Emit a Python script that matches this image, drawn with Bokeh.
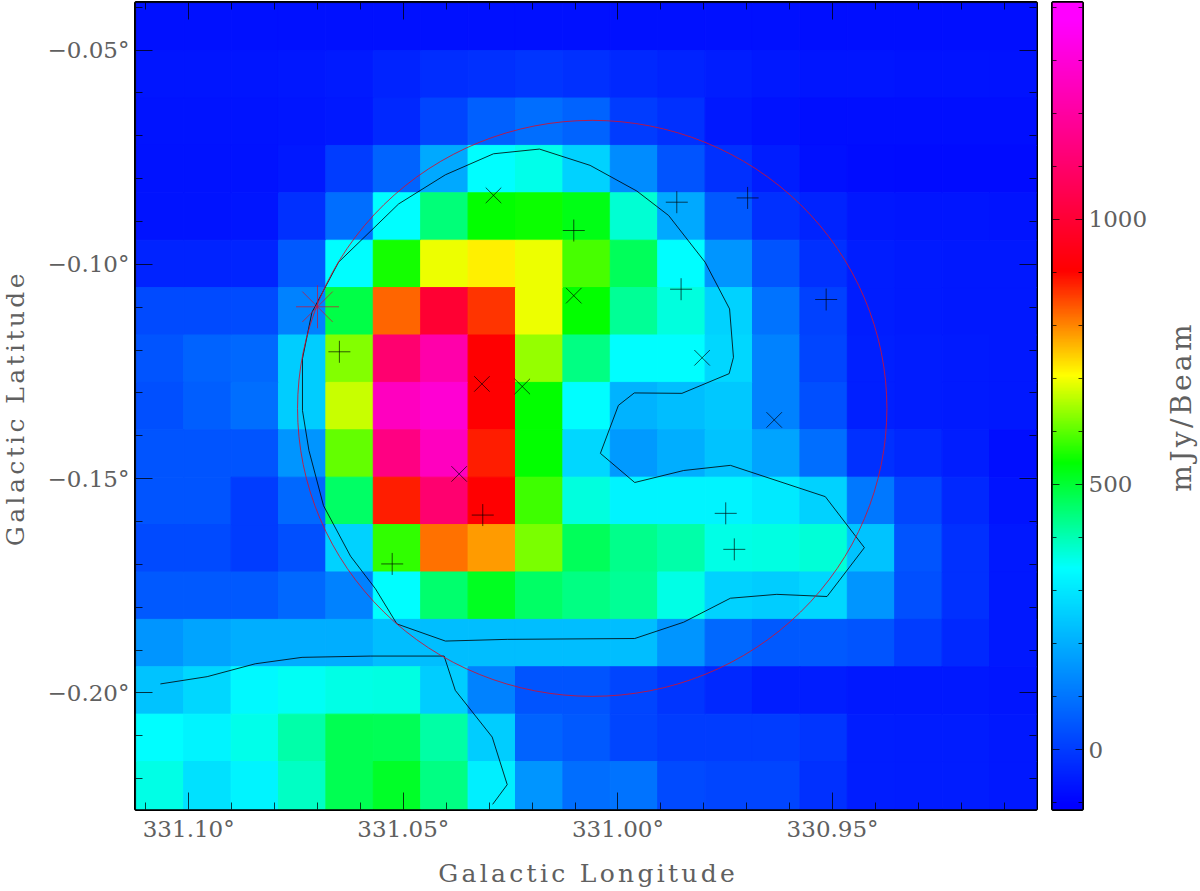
import numpy as np
from bokeh.plotting import figure
from bokeh.layouts import row, column
from bokeh.embed import file_html
from bokeh.resources import INLINE
from bokeh.core.properties import value
from bokeh.models import Range1d, LinearAxis, FixedTicker, LinearColorMapper, ColumnDataSource, GlobalInlineStyleSheet
from bokeh.transform import transform

# mJy/Beam per cell, top row first, left column (highest longitude) first
z_rows = [
 [-76,-76,-76,-76,-76,-76,-76,-76,-76,-76,-76,-76,-76,-76,-78,-78,-78,-78,-78],
 [-68,-68,-66,-64,-58,-44,-26,-18,-9,-18,-35,-44,-52,-62,-66,-68,-70,-70,-72],
 [-70,-70,-70,-67,-61,-35,17,63,87,70,0,-18,-61,-74,-78,-78,-79,-79,-79],
 [-74,-74,-74,-61,0,70,192,341,357,262,140,44,-18,-52,-76,-82,-84,-84,-84],
 [-70,-70,-68,-18,87,341,447,541,547,525,376,192,52,-18,-44,-65,-67,-68,-70],
 [-44,-42,-40,52,341,554,693,718,693,586,470,341,157,44,-18,-52,-58,-60,-62],
 [26,26,28,122,486,826,996,865,693,541,423,368,262,96,9,-52,-58,-60,-62],
 [44,70,79,254,625,1107,1218,904,638,439,341,341,271,122,17,-48,-56,-58,-60],
 [35,61,87,254,670,1255,1292,904,541,341,210,227,245,122,35,-48,-56,-58,-60],
 [44,44,44,157,606,1144,1255,881,541,271,166,201,236,184,87,-18,-35,-52,-79],
 [44,44,0,79,463,881,1107,904,580,368,323,323,323,306,262,105,17,-35,-70],
 [26,26,0,35,262,573,815,784,619,470,431,408,361,365,372,236,44,-18,-61],
 [52,52,52,79,122,341,455,517,463,439,423,361,262,254,271,157,35,-18,-61],
 [157,184,201,201,201,227,227,227,227,227,227,157,79,52,52,44,0,-35,-61],
 [236,271,332,349,361,365,254,122,44,44,17,-9,-35,-52,-52,-61,-61,-61,-66],
 [341,323,357,408,478,474,412,254,70,52,17,0,0,0,-9,-52,-56,-56,-61],
 [361,289,323,388,478,510,439,315,157,87,96,26,17,17,-18,-52,-56,-56,-61],
]
first_col_lon = 331.1067
first_row_lat = -0.0446
cell_lon = 0.011043
cell_lat = 0.011059

contour1_lon = [331.0735,331.0713,331.0651,331.0511,331.0402,331.0290,331.0183,331.0065,330.9956,330.9882,
                330.9797,330.9740,330.9731,330.9741,330.9851,330.9962,330.9999,331.0041,330.9961,330.9847,
                330.9738,330.9517,330.9426,330.9513,330.9630,330.9738,330.9847,330.9961,331.0258,331.0402,
                331.0515,331.0565,331.0623,331.0686,331.0720,331.0735,331.0735]
contour1_lat = [-0.1220,-0.1112,-0.0995,-0.0859,-0.0791,-0.0742,-0.0731,-0.0769,-0.0829,-0.0886,
                -0.0995,-0.1104,-0.1217,-0.1255,-0.1301,-0.1300,-0.1329,-0.1441,-0.1509,-0.1481,
                -0.1469,-0.1542,-0.1661,-0.1775,-0.1770,-0.1779,-0.1835,-0.1873,-0.1875,-0.1879,
                -0.1839,-0.1757,-0.1681,-0.1563,-0.1434,-0.1341,-0.1220]
contour2_lon = [331.1066,331.0957,331.0845,331.0736,331.0577,331.0405,331.0379,331.0293,331.0258,331.0292]
contour2_lat = [-0.1979,-0.1962,-0.1932,-0.1917,-0.1914,-0.1914,-0.1994,-0.2103,-0.2214,-0.2260]

plus_lon = [331.0103,331.0649,330.9863,330.9698,330.9853,330.9515,331.0315,331.0526,330.9749,330.9729]
plus_lat = [-0.0921,-0.1204,-0.0855,-0.0845,-0.1058,-0.1082,-0.1585,-0.1699,-0.1581,-0.1665]
cross_lon = [331.0290,331.0103,331.0317,331.0223,331.0370,330.9804,330.9636]
cross_lat = [-0.0839,-0.1073,-0.1279,-0.1285,-0.1489,-0.1218,-0.1363]
star_lon = [331.0700]
star_lat = [-0.1099]

circle_lon = 331.0060
circle_lat = -0.1336
circle_w = 0.1373
circle_h = 0.1344

lon_major = [331.10,331.05,331.00,330.95]
lat_major = [-0.05,-0.10,-0.15,-0.20]
lon_minor = [331.11,331.09,331.08,331.07,331.06,331.04,331.03,331.02,331.01,330.99,330.98,330.97,330.96,330.94,330.93,330.92,330.91]
lat_minor = [-0.04,-0.06,-0.07,-0.08,-0.09,-0.11,-0.12,-0.13,-0.14,-0.16,-0.17,-0.18,-0.19,-0.21,-0.22]
lon_labels = {331.10:"331.10°",331.05:"331.05°",331.00:"331.00°",330.95:"330.95°"}
lat_labels = {-0.05:"−0.05°",-0.10:"−0.10°",-0.15:"−0.15°",-0.20:"−0.20°"}
cb_major = [0,500,1000]
cb_minor = [-100,100,200,300,400,600,700,800,900,1100,1200,1300,1400]
cb_labels = {0:"0",500:"500",1000:"1000"}
x_title = "Galactic Longitude"
y_title = "Galactic Latitude"
cb_title = "mJy/Beam"

# colour scale: stops of the rainbow along the bar
stop_vals = [-105,341,541,706,904,1375]
stop_r = [0,0,0,255,255,255]
stop_g = [0,255,255,255,0,0]
stop_b = [255,255,0,0,0,255]
vmin, vmax = -113, 1409
grid = np.linspace(vmin, vmax, 512)
rr = np.interp(grid, stop_vals, stop_r).round().astype(int)
gg = np.interp(grid, stop_vals, stop_g).round().astype(int)
bb = np.interp(grid, stop_vals, stop_b).round().astype(int)
palette = ["#%02x%02x%02x" % t for t in zip(rr, gg, bb)]
mapper = LinearColorMapper(palette=palette, low=vmin, high=vmax)

FONT = "DejaVu Serif"
TXT = "#606060"

def style_axis(ax, major, minor, labels=None, tick_in=17, minor_in=7):
    ax.ticker = FixedTicker(ticks=major, minor_ticks=minor)
    ax.major_tick_in = tick_in; ax.major_tick_out = 0
    ax.minor_tick_in = minor_in; ax.minor_tick_out = 0
    ax.axis_line_color = None
    ax.major_tick_line_color = "#000000"; ax.minor_tick_line_color = "#000000"
    ax.major_tick_line_alpha = 0.75; ax.minor_tick_line_alpha = 0.75
    if labels:
        ax.major_label_overrides = labels
        ax.major_label_text_font = FONT
        ax.major_label_text_font_size = "23px"
        ax.major_label_text_color = TXT
        ax.major_label_standoff = 6
    else:
        ax.major_label_overrides = {t: "" for t in major}
        ax.major_label_text_font_size = "1px"
        ax.major_label_standoff = 0

def title_fig(w, h, text, size, spacing, angle=0.0, xo=0, yo=0):
    f = figure(width=w, height=h, output_backend="svg", toolbar_location=None,
               x_range=Range1d(0, 1), y_range=Range1d(0, 1),
               x_axis_location=None, y_axis_location=None,
               min_border=0, outline_line_color=None, styles={"letter-spacing": spacing})
    f.grid.visible = False
    f.text(x=[0.5], y=[0.5], text=[text], angle=angle, text_align="center", text_baseline="middle",
           x_offset=xo, y_offset=yo, text_font=value(FONT), text_font_size=size, text_color=TXT)
    return f

p = figure(width=1009, height=855, output_backend="svg", toolbar_location=None,
           x_range=Range1d(331.1124, 330.9025), y_range=Range1d(-0.2272, -0.0389),
           x_axis_location=None, y_axis_location=None,
           min_border_left=101, min_border_right=7, min_border_top=2, min_border_bottom=46)
p.grid.visible = False
p.outline_line_color = "#000000"; p.outline_line_width = 3

nrow, ncol = len(z_rows), len(z_rows[0])
lon_c = first_col_lon - np.arange(ncol) * cell_lon
lat_c = first_row_lat - np.arange(nrow) * cell_lat
LON, LAT = np.meshgrid(lon_c, lat_c)
src = ColumnDataSource(dict(lon=LON.ravel(), lat=LAT.ravel(), z=np.array(z_rows, float).ravel()))
cm = transform("z", mapper)
p.rect("lon", "lat", width=cell_lon, height=cell_lat, source=src, fill_color=cm, line_color=cm, line_width=1)

p.line(contour1_lon, contour1_lat, line_color="#000000", line_width=1, line_alpha=0.8)
p.line(contour2_lon, contour2_lat, line_color="#000000", line_width=1, line_alpha=0.8)
p.ellipse(x=[circle_lon], y=[circle_lat], width=circle_w, height=circle_h, fill_color=None,
          line_color="#d01030", line_width=1, line_alpha=0.85)
p.scatter(plus_lon, plus_lat, marker="cross", size=22, fill_color=None, line_color="#000000", line_alpha=0.65, line_width=1)
p.scatter(cross_lon, cross_lat, marker="x", size=22, fill_color=None, line_color="#000000", line_alpha=0.65, line_width=1)
p.scatter(star_lon, star_lat, marker="asterisk", size=43, fill_color=None, line_color="#d01030", line_alpha=0.7, line_width=1)

b = LinearAxis(); style_axis(b, lon_major, lon_minor, lon_labels); p.add_layout(b, "below")
l = LinearAxis(); style_axis(l, lat_major, lat_minor, lat_labels); p.add_layout(l, "left")
t = LinearAxis(); style_axis(t, lon_major, lon_minor); p.add_layout(t, "above")
r = LinearAxis(); style_axis(r, lat_major, lat_minor); p.add_layout(r, "right")

cb = figure(width=109, height=855, output_backend="svg", toolbar_location=None,
            x_range=Range1d(0, 1), y_range=Range1d(vmin, vmax),
            x_axis_location=None, y_axis_location=None,
            min_border_left=9, min_border_right=70, min_border_top=2, min_border_bottom=46)
cb.grid.visible = False
cb.outline_line_color = "#000000"; cb.outline_line_width = 3
cb.image(image=[grid.reshape(-1, 1)], x=0, y=vmin, dw=1, dh=vmax - vmin, color_mapper=mapper)
cl = LinearAxis(); style_axis(cl, cb_major, cb_minor, None, 7, 4); cb.add_layout(cl, "left")
cr = LinearAxis(); style_axis(cr, cb_major, cb_minor, cb_labels, 7, 4); cb.add_layout(cr, "right")

y_fig = title_fig(34, 855, y_title, "25px", "3.4px", angle=np.pi/2, xo=-2, yo=31)
cb_fig = title_fig(48, 855, cb_title, "28px", "3.4px", angle=np.pi/2, xo=5, yo=14)
x_fig = title_fig(1200, 36, x_title, "25px", "3.3px", xo=-42, yo=0)

page = column(row(y_fig, p, cb, cb_fig, spacing=0), x_fig, spacing=0,
              stylesheets=[GlobalInlineStyleSheet(css="html,body{margin:0;padding:0;overflow:hidden}")])
open("out.html", "w").write(file_html(page, INLINE))
